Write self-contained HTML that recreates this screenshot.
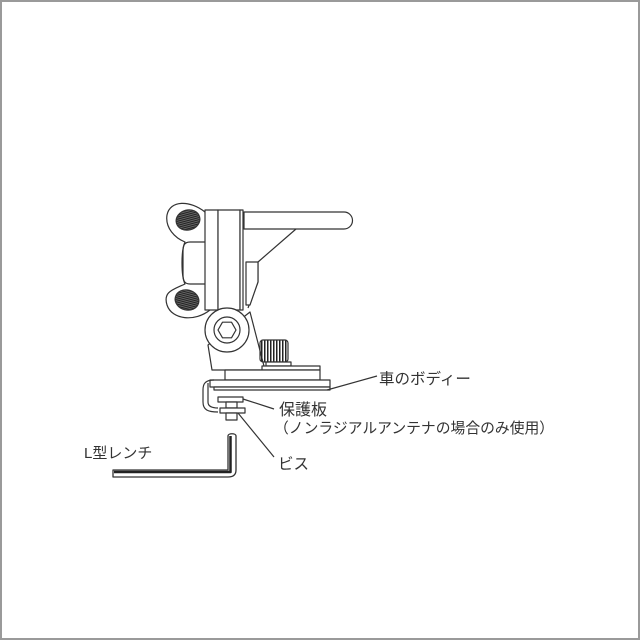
<!DOCTYPE html>
<html><head><meta charset="utf-8"><style>
html,body{margin:0;padding:0;background:#fff}
svg{display:block}
text{font-family:"Liberation Sans","Noto Sans CJK JP",sans-serif;fill:#333}
</style></head><body>
<svg width="640" height="640" viewBox="0 0 640 640" xmlns="http://www.w3.org/2000/svg">
<defs>
<pattern id="st" width="2" height="2" patternUnits="userSpaceOnUse"><rect width="2" height="1" fill="#222"/><rect y="1" width="2" height="1" fill="#666"/></pattern>
<pattern id="vs" width="3" height="3" patternUnits="userSpaceOnUse"><rect width="1.5" height="3" fill="#222"/></pattern>
</defs>
<rect x="1" y="1" width="638" height="638" fill="#fff" stroke="#9a9a9a" stroke-width="2"/>
<g fill="#fff" stroke="#333" stroke-width="1.2" stroke-linejoin="round">
<!-- wing nut -->
<path d="M205,212 C190,200 170,200 167,215 C165,228 175,238 185,242 C181,250 181,276 185,284 C172,290 163,292 167,305 C172,320 195,322 210,310 Z"/>
<path d="M207,242 L190,242 C184,242 183,246 183,252 L183,274 C183,280 184,284 190,284 L207,284" fill="none"/>
<ellipse cx="188" cy="220" rx="12" ry="10" fill="url(#st)" transform="rotate(-15 188 220)"/>
<ellipse cx="187" cy="300" rx="12" ry="10" fill="url(#st)" transform="rotate(15 187 300)"/>
<!-- column -->
<rect x="205" y="210" width="13" height="100"/>
<rect x="218" y="210" width="22" height="100"/>
<rect x="240" y="210" width="3" height="100"/>
<!-- handle -->
<path d="M244,212 L344,212 A8.5,8.5 0 0 1 344,229 L244,229 Z"/>
<path d="M296,229 L258,262 L258,282 L248,308" fill="none"/>
<path d="M246,262 L258,262 L258,282 L250,305 L246,305 Z"/>
<!-- bracket below circle -->
<path d="M208,345 L212,370 L265,370 L250,312 Z"/>
<circle cx="227" cy="330" r="22"/>
<circle cx="227" cy="330" r="13"/>
<polygon points="236,330 231.5,337.8 222.5,337.8 218,330 222.5,322.2 231.5,322.2"/>
<!-- knob -->
<rect x="260" y="340" width="28" height="22" rx="3" fill="url(#vs)"/>
<rect x="266" y="362" width="25" height="4"/>
<rect x="262" y="366" width="58" height="4"/>
<rect x="225" y="370" width="95" height="10"/>
<!-- base plate -->
<rect x="210" y="380" width="120" height="7"/>
<rect x="214" y="387" width="116" height="3"/>
<!-- hook -->
<path d="M214,380 C205,380 203,384 203,390 L203,402 C203,410 208,412 218,412" fill="none" stroke-width="1.2"/>
<path d="M208,383 L208,402 C208,406 211,408 218,408" fill="none"/>
<!-- washer, screw -->
<rect x="218" y="397" width="25" height="5"/>
<rect x="226" y="402" width="11" height="6"/>
<rect x="220" y="408" width="25" height="5"/>
<rect x="226" y="413" width="11" height="7"/>
<!-- wrench -->
<path d="M228,436 C228,433 236,433 236,436 L236,470 C236,475 233,477 228,477 L113,477 L113,470 L228,470 Z" stroke-width="1.3"/>
<path d="M230.5,436 L230.5,472 L114,472" fill="none" stroke="#222" stroke-width="2.5"/>
</g>
<g stroke="#333" stroke-width="1.2" fill="none">
<line x1="327" y1="390" x2="377" y2="376"/>
<line x1="243" y1="399" x2="274" y2="409"/>
<line x1="238" y1="413" x2="274" y2="457"/>
</g>
<text x="379" y="384" font-size="15.5">車のボディー</text>
<text x="279" y="415" font-size="16">保護板</text>
<text x="274" y="433" font-size="14.8">（ノンラジアルアンテナの場合のみ使用）</text>
<text x="278" y="469" font-size="15.5">ビス</text>
<text x="84" y="458" font-size="15">L型レンチ</text>
</svg>
</body></html>
